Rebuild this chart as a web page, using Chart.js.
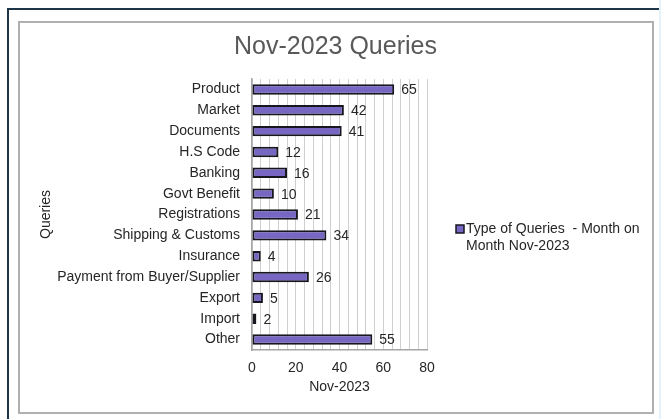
<!DOCTYPE html>
<html>
<head>
<meta charset="utf-8">
<script src="https://cdn.jsdelivr.net/npm/chart.js"></script>
<style>
    body { margin: 0; background: #ffffff; }
    .page { position: relative; width: 661px; height: 419px; overflow: hidden; background: #ffffff; }
    .outer { position: absolute; left: 7px; top: 8px; width: 700px; height: 500px; border-top: 2px solid #1e3547; border-left: 2px solid #1e3547; }
    .edge { position: absolute; left: 659px; top: 0; width: 2px; height: 419px; background: #e3f1fa; }
    .inner { position: absolute; left: 18px; top: 21px; width: 632px; height: 389px; border: 2px solid #b0b0b0; }
    canvas { position: absolute; left: 0; top: 0; }
</style>
</head>
<body>
<div class="page">
    <div class="outer"></div>
    <div class="edge"></div>
    <div class="inner"></div>
    <canvas id="chart" width="661" height="419"></canvas>
</div>
<script>
// Chart data
const categories = ['Product', 'Market', 'Documents', 'H.S Code', 'Banking', 'Govt Benefit', 'Registrations',
    'Shipping & Customs', 'Insurance', 'Payment from Buyer/Supplier', 'Export', 'Import', 'Other'];
const queryCounts = [65, 42, 41, 12, 16, 10, 21, 34, 4, 26, 5, 2, 55];
const seriesName = ['Type of Queries  - Month on', 'Month Nov-2023'];
const xTickLabels = [0, 20, 40, 60, 80];
const chartTitle = 'Nov-2023 Queries';

const fontFamily = '"Liberation Sans", Arial, sans-serif';
const textColor = '#262626';
const barFill = '#7767c2';
const barEdge = '#16161f';

// Title, centred over the plot rather than the whole canvas
const plotTitle = {
    id: 'plotTitle',
    afterDraw(chart) {
        const ctx = chart.ctx;
        const area = chart.chartArea;
        ctx.save();
        ctx.font = '25px ' + fontFamily;
        ctx.fillStyle = '#595959';
        ctx.textAlign = 'center';
        ctx.textBaseline = 'middle';
        ctx.fillText(chartTitle, (area.left + area.right) / 2 - 4, 47);
        ctx.restore();
    }
};

// Value labels next to each bar
const valueLabels = {
    id: 'valueLabels',
    afterDatasetsDraw(chart) {
        const ctx = chart.ctx;
        const meta = chart.getDatasetMeta(0);
        ctx.save();
        ctx.font = '14px ' + fontFamily;
        ctx.fillStyle = textColor;
        ctx.textAlign = 'left';
        ctx.textBaseline = 'middle';
        meta.data.forEach((bar, i) => {
            ctx.fillText(String(queryCounts[i]), bar.x + 7, bar.y + 1);
        });
        ctx.restore();
    }
};

// Legend on the right, wrapped on two lines
const sideLegend = {
    id: 'sideLegend',
    afterDraw(chart) {
        const ctx = chart.ctx;
        const x = chart.chartArea.right + 29;
        const y = 229;
        ctx.save();
        ctx.fillStyle = barFill;
        ctx.strokeStyle = barEdge;
        ctx.lineWidth = 1.5;
        ctx.fillRect(x, y - 4, 8, 8);
        ctx.strokeRect(x, y - 4, 8, 8);
        ctx.font = '14px ' + fontFamily;
        ctx.fillStyle = textColor;
        ctx.textBaseline = 'middle';
        ctx.fillText(seriesName[0], x + 10, y);
        ctx.fillText(seriesName[1], x + 10, y + 17);
        ctx.restore();
    }
};

new Chart(document.getElementById('chart'), {
    type: 'bar',
    data: {
        labels: categories,
        datasets: [{
            label: seriesName.join(' '),
            data: queryCounts,
            backgroundColor: barFill,
            borderColor: barEdge,
            borderWidth: 2,
            borderSkipped: false,
            categoryPercentage: 1,
            barPercentage: 0.5
        }]
    },
    options: {
        indexAxis: 'y',
        responsive: false,
        animation: false,
        layout: { padding: { left: 38, right: 234, top: 79, bottom: 21 } },
        plugins: {
            legend: { display: false },
            tooltip: { enabled: false },
            title: { display: false }
        },
        scales: {
            x: {
                min: 0,
                max: 80,
                afterFit: scale => { scale.height = 48; },
                ticks: {
                    stepSize: 4,
                    autoSkip: false,
                    maxRotation: 0,
                    padding: 10,
                    color: textColor,
                    font: { family: fontFamily, size: 14 },
                    callback: v => xTickLabels.includes(v) ? String(v) : ''
                },
                grid: { color: '#cfcfcf', lineWidth: 1, drawTicks: false },
                border: { color: '#a6a6a6', width: 1.5 },
                title: {
                    display: true,
                    text: 'Nov-2023',
                    color: textColor,
                    font: { family: fontFamily, size: 14 },
                    padding: { top: 3, bottom: 2 }
                }
            },
            y: {
                afterFit: scale => { scale.width = 214; },
                ticks: {
                    padding: 12,
                    autoSkip: false,
                    color: textColor,
                    font: { family: fontFamily, size: 14 }
                },
                grid: { display: false, drawTicks: false },
                border: { color: '#a6a6a6', width: 1.5 },
                title: {
                    display: true,
                    text: 'Queries',
                    color: textColor,
                    font: { family: fontFamily, size: 14 },
                    padding: { top: 0, bottom: 3 }
                }
            }
        }
    },
    plugins: [plotTitle, valueLabels, sideLegend]
});
</script>
</body>
</html>
